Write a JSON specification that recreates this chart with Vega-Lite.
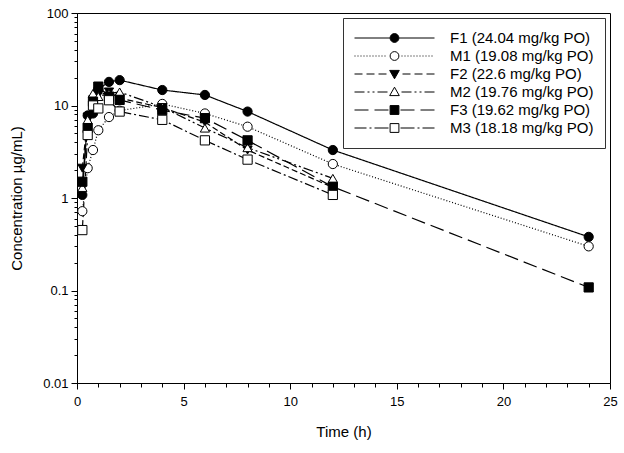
{
  "$schema": "https://vega.github.io/schema/vega-lite/v6.json",
  "autosize": {"type": "none"},
  "padding": {"left": 77, "top": 13, "right": 14, "bottom": 70},
  "width": 533,
  "height": 370,
  "background": "white",
  "config": {
    "view": {"stroke": "black", "strokeWidth": 1},
    "font": "Liberation Sans",
    "axis": {"labelFont": "Liberation Sans", "titleFont": "Liberation Sans", "labelColor": "black", "titleColor": "black", "domainColor": "black", "tickColor": "black", "grid": false, "titleFontWeight": "normal"},
    "legend": {
      "title": null, "orient": "none", "legendX": 266, "legendY": 5,
      "strokeColor": "#333333", "fillColor": "white", "padding": 11,
      "symbolSize": 6400, "clipHeight": 18, "rowPadding": 0,
      "symbolStrokeColor": "black", "symbolStrokeWidth": 1, "symbolOpacity": 1,
      "labelFont": "Liberation Sans", "labelFontSize": 15, "labelColor": "black", "labelOffset": 15, "labelLimit": 300
    }
  },
  "data": {"values": [
    {"s": "F1 (24.04 mg/kg PO)", "t": 0.25, "c": 1.08},
    {"s": "F1 (24.04 mg/kg PO)", "t": 0.5, "c": 7.8},
    {"s": "F1 (24.04 mg/kg PO)", "t": 0.75, "c": 8.2},
    {"s": "F1 (24.04 mg/kg PO)", "t": 1, "c": 15},
    {"s": "F1 (24.04 mg/kg PO)", "t": 1.5, "c": 18},
    {"s": "F1 (24.04 mg/kg PO)", "t": 2, "c": 18.8},
    {"s": "F1 (24.04 mg/kg PO)", "t": 4, "c": 14.7},
    {"s": "F1 (24.04 mg/kg PO)", "t": 6, "c": 13},
    {"s": "F1 (24.04 mg/kg PO)", "t": 8, "c": 8.6},
    {"s": "F1 (24.04 mg/kg PO)", "t": 12, "c": 3.3},
    {"s": "F1 (24.04 mg/kg PO)", "t": 24, "c": 0.38},
    {"s": "M1 (19.08 mg/kg PO)", "t": 0.25, "c": 0.72},
    {"s": "M1 (19.08 mg/kg PO)", "t": 0.5, "c": 2.1},
    {"s": "M1 (19.08 mg/kg PO)", "t": 0.75, "c": 3.3},
    {"s": "M1 (19.08 mg/kg PO)", "t": 1, "c": 5.4},
    {"s": "M1 (19.08 mg/kg PO)", "t": 1.5, "c": 7.5},
    {"s": "M1 (19.08 mg/kg PO)", "t": 2, "c": 8.8},
    {"s": "M1 (19.08 mg/kg PO)", "t": 4, "c": 10.4},
    {"s": "M1 (19.08 mg/kg PO)", "t": 6, "c": 8.2},
    {"s": "M1 (19.08 mg/kg PO)", "t": 8, "c": 5.9},
    {"s": "M1 (19.08 mg/kg PO)", "t": 12, "c": 2.33},
    {"s": "M1 (19.08 mg/kg PO)", "t": 24, "c": 0.30},
    {"s": "F2 (22.6 mg/kg PO)", "t": 0.25, "c": 2.1},
    {"s": "F2 (22.6 mg/kg PO)", "t": 0.5, "c": 7.5},
    {"s": "F2 (22.6 mg/kg PO)", "t": 0.75, "c": 11.5},
    {"s": "F2 (22.6 mg/kg PO)", "t": 1, "c": 13},
    {"s": "F2 (22.6 mg/kg PO)", "t": 1.5, "c": 14},
    {"s": "F2 (22.6 mg/kg PO)", "t": 2, "c": 12},
    {"s": "F2 (22.6 mg/kg PO)", "t": 4, "c": 9.5},
    {"s": "F2 (22.6 mg/kg PO)", "t": 6, "c": 6.6},
    {"s": "F2 (22.6 mg/kg PO)", "t": 8, "c": 3.3},
    {"s": "F2 (22.6 mg/kg PO)", "t": 12, "c": 1.3},
    {"s": "M2 (19.76 mg/kg PO)", "t": 0.25, "c": 1.3},
    {"s": "M2 (19.76 mg/kg PO)", "t": 0.5, "c": 7.0},
    {"s": "M2 (19.76 mg/kg PO)", "t": 0.75, "c": 13.5},
    {"s": "M2 (19.76 mg/kg PO)", "t": 1, "c": 12.5},
    {"s": "M2 (19.76 mg/kg PO)", "t": 1.5, "c": 13.5},
    {"s": "M2 (19.76 mg/kg PO)", "t": 2, "c": 14},
    {"s": "M2 (19.76 mg/kg PO)", "t": 4, "c": 9.6},
    {"s": "M2 (19.76 mg/kg PO)", "t": 6, "c": 5.7},
    {"s": "M2 (19.76 mg/kg PO)", "t": 8, "c": 3.5},
    {"s": "M2 (19.76 mg/kg PO)", "t": 12, "c": 1.63},
    {"s": "F3 (19.62 mg/kg PO)", "t": 0.25, "c": 1.5},
    {"s": "F3 (19.62 mg/kg PO)", "t": 0.5, "c": 5.7},
    {"s": "F3 (19.62 mg/kg PO)", "t": 0.75, "c": 11},
    {"s": "F3 (19.62 mg/kg PO)", "t": 1, "c": 16},
    {"s": "F3 (19.62 mg/kg PO)", "t": 1.5, "c": 12.5},
    {"s": "F3 (19.62 mg/kg PO)", "t": 2, "c": 11.5},
    {"s": "F3 (19.62 mg/kg PO)", "t": 4, "c": 8.9},
    {"s": "F3 (19.62 mg/kg PO)", "t": 6, "c": 7.3},
    {"s": "F3 (19.62 mg/kg PO)", "t": 8, "c": 4.2},
    {"s": "F3 (19.62 mg/kg PO)", "t": 12, "c": 1.32},
    {"s": "F3 (19.62 mg/kg PO)", "t": 24, "c": 0.108},
    {"s": "M3 (18.18 mg/kg PO)", "t": 0.25, "c": 0.45},
    {"s": "M3 (18.18 mg/kg PO)", "t": 0.5, "c": 4.8},
    {"s": "M3 (18.18 mg/kg PO)", "t": 0.75, "c": 10},
    {"s": "M3 (18.18 mg/kg PO)", "t": 1, "c": 9.3},
    {"s": "M3 (18.18 mg/kg PO)", "t": 1.5, "c": 11.4},
    {"s": "M3 (18.18 mg/kg PO)", "t": 2, "c": 8.6},
    {"s": "M3 (18.18 mg/kg PO)", "t": 4, "c": 7.0},
    {"s": "M3 (18.18 mg/kg PO)", "t": 6, "c": 4.2},
    {"s": "M3 (18.18 mg/kg PO)", "t": 8, "c": 2.6},
    {"s": "M3 (18.18 mg/kg PO)", "t": 12, "c": 1.08}
  ]},
  "encoding": {
    "x": {"field": "t", "type": "quantitative",
      "scale": {"domain": [0, 25], "nice": false, "zero": false},
      "axis": {"title": "Time (h)", "titleFontSize": 15, "labelFontSize": 13, "values": [0,1,2,3,4,5,6,7,8,9,10,11,12,13,14,15,16,17,18,19,20,21,22,23,24,25],
        "labelExpr": "datum.value % 5 == 0 ? datum.label : ''",
        "tickSize": {"condition": {"test": "datum.value % 5 == 0", "value": 6}, "value": 4},
        "labelPadding": 6, "titlePadding": 16, "labelFlush": false, "labelOverlap": false}},
    "y": {"field": "c", "type": "quantitative",
      "scale": {"type": "log", "domain": [0.01, 100], "nice": false},
      "axis": {"title": "Concentration µg/mL)", "titleFontSize": 15, "labelFontSize": 13, "format": "~g",
        "values": [0.01,0.02,0.03,0.04,0.05,0.06,0.07,0.08,0.09,0.1,0.2,0.3,0.4,0.5,0.6,0.7,0.8,0.9,1,2,3,4,5,6,7,8,9,10,20,30,40,50,60,70,80,90,100],
        "labelExpr": "indexof([0.01,0.1,1,10,100], datum.value) >= 0 ? datum.label : ''",
        "tickSize": {"condition": {"test": "indexof([0.01,0.1,1,10,100], datum.value) >= 0", "value": 6}, "value": 3},
        "labelPadding": 3, "titlePadding": 18, "labelFlush": false, "labelOverlap": false}}
  },
  "layer": [
    {
      "mark": {"type": "line", "color": "black", "strokeWidth": 1.2},
      "encoding": {
        "detail": {"field": "s"},
        "strokeDash": {"condition": [
          {"test": "indexof(datum.s, 'F1') == 0", "value": [1, 0]},
          {"test": "indexof(datum.s, 'M1') == 0", "value": [1, 2]},
          {"test": "indexof(datum.s, 'F2') == 0", "value": [6, 3]},
          {"test": "indexof(datum.s, 'M2') == 0", "value": [10, 3, 2, 3, 2, 3]},
          {"test": "indexof(datum.s, 'F3') == 0", "value": [14, 6]}
        ], "value": [10, 3, 2, 3]}
      }
    },
    {
      "mark": {"type": "point", "filled": true, "stroke": "black", "strokeWidth": 1, "opacity": 1, "size": 85},
      "encoding": {
        "shape": {"condition": [
          {"test": "indexof(datum.s, 'F2') == 0", "value": "triangle-down"},
          {"test": "indexof(datum.s, 'M2') == 0", "value": "triangle-up"},
          {"test": "indexof(datum.s, '3') == 1", "value": "square"}
        ], "value": "circle"},
        "fill": {"field": "s", "type": "nominal",
          "scale": {"domain": ["F1 (24.04 mg/kg PO)", "M1 (19.08 mg/kg PO)", "F2 (22.6 mg/kg PO)", "M2 (19.76 mg/kg PO)", "F3 (19.62 mg/kg PO)", "M3 (18.18 mg/kg PO)"],
            "range": ["black", "white", "black", "white", "black", "white"]},
          "legend": {
            "symbolType": {"expr": "['M-1,0L-0.11,0M0.11,0L1,0M-0.11,0A0.11,0.11 0 1,1 0.11,0A0.11,0.11 0 1,1 -0.11,0Z', 'M-1,0h0.025m0.05,0h0.025m0.05,0h0.025m0.05,0h0.025m0.05,0h0.025m0.05,0h0.025m0.05,0h0.025m0.05,0h0.025m0.05,0h0.025m0.05,0h0.025m0.05,0h0.025M0.175,0h0.025m0.05,0h0.025m0.05,0h0.025m0.05,0h0.025m0.05,0h0.025m0.05,0h0.025m0.05,0h0.025m0.05,0h0.025m0.05,0h0.025m0.05,0h0.025m0.05,0h0.025M-0.11,0A0.11,0.11 0 1,1 0.11,0A0.11,0.11 0 1,1 -0.11,0Z', 'M-1,0h0.2m0.1,0h0.2m0.1,0h0.2M0.2,0h0.2m0.1,0h0.2m0.1,0h0.2M-0.12,-0.09L0.12,-0.09L0,0.12Z', 'M-1,0h0.25m0.075,0h0.05m0.075,0h0.05m0.075,0h0.25M0.175,0h0.25m0.075,0h0.05m0.075,0h0.05m0.075,0h0.25M-0.12,0.09L0.12,0.09L0,-0.12Z', 'M-1,0h0.35m0.15,0h0.35M0.15,0h0.35m0.15,0h0.35M-0.11,-0.11h0.22v0.22h-0.22Z', 'M-1,0h0.3m0.075,0h0.05m0.075,0h0.35M0.15,0h0.35m0.075,0h0.05m0.075,0h0.3M-0.11,-0.11h0.22v0.22h-0.22Z'][indexof(['F1','M1','F2','M2','F3','M3'], substring(datum.value, 0, 2))]"}
          }}
      }
    }
  ]
}
